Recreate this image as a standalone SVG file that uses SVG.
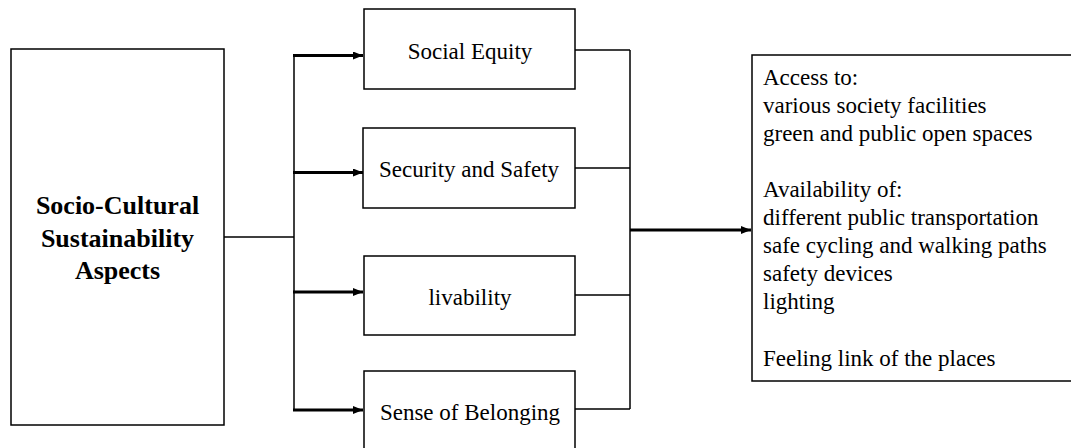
<svg xmlns="http://www.w3.org/2000/svg" width="1071" height="448" viewBox="0 0 1071 448">
<style>
.box{fill:#fff;stroke:#000;stroke-width:1.5}
.t{font-family:"Liberation Serif","Times New Roman",serif;font-size:23px;fill:#000}
.b{font-family:"Liberation Serif","Times New Roman",serif;font-size:26px;font-weight:bold;fill:#000}
.ln{fill:none;stroke:#000;stroke-width:1.5}
.ar{fill:none;stroke:#000;stroke-width:3}
</style>
<defs>
<marker id="ah" markerWidth="10" markerHeight="8" refX="10" refY="4" orient="auto" markerUnits="userSpaceOnUse">
<path d="M0,0 L10,4 L0,8 Z" fill="#000"/>
</marker>
</defs>
<rect width="1071" height="448" fill="#fff"/>
<g id="connectors">
<path class="ln" d="M224,237 H294 M294,55 V410"/>
<path class="ar" d="M293,55.5 H363" marker-end="url(#ah)"/>
<path class="ar" d="M293,172.5 H363" marker-end="url(#ah)"/>
<path class="ar" d="M293,292 H363" marker-end="url(#ah)"/>
<path class="ar" d="M293,410 H363" marker-end="url(#ah)"/>
<path class="ln" d="M575,50 H630 M575,168 H630 M575,295 H630 M575,409 H630 M630,50 V409"/>
<path class="ar" d="M630,230 H751" marker-end="url(#ah)"/>
</g>
<g id="main">
<rect class="box" x="11" y="49" width="213" height="376"/>
<text class="b" text-anchor="middle" x="117.5" y="214">Socio-Cultural</text>
<text class="b" text-anchor="middle" x="117.5" y="247">Sustainability</text>
<text class="b" text-anchor="middle" x="117.5" y="279">Aspects</text>
</g>
<g id="equity">
<rect class="box" x="364" y="9" width="211" height="80"/>
<text class="t" text-anchor="middle" x="470" y="59">Social Equity</text>
</g>
<g id="security">
<rect class="box" x="363" y="128" width="212" height="80"/>
<text class="t" text-anchor="middle" x="469" y="177">Security and Safety</text>
</g>
<g id="livability">
<rect class="box" x="364" y="256" width="211" height="79"/>
<text class="t" text-anchor="middle" x="470" y="305">livability</text>
</g>
<g id="belonging">
<rect class="box" x="364" y="371" width="211" height="82"/>
<text class="t" text-anchor="middle" x="470" y="420">Sense of Belonging</text>
</g>
<g id="outcomes">
<rect class="box" x="752" y="55" width="330" height="326"/>
<text class="t" x="763" y="85">Access to:</text>
<text class="t" x="763" y="113">various society facilities</text>
<text class="t" x="763" y="141">green and public open spaces</text>
<text class="t" x="763" y="197">Availability of:</text>
<text class="t" x="763" y="225">different public transportation</text>
<text class="t" x="763" y="253">safe cycling and walking paths</text>
<text class="t" x="763" y="281">safety devices</text>
<text class="t" x="763" y="309">lighting</text>
<text class="t" x="763" y="366">Feeling link of the places</text>
</g>
</svg>
